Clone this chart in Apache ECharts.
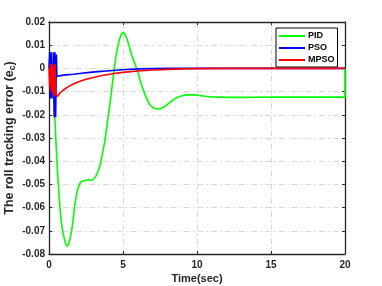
<!DOCTYPE html>
<html>
<head>
<meta charset="utf-8">
<script src="https://cdn.jsdelivr.net/npm/echarts@6/dist/echarts.min.js"></script>
<style>
html,body{margin:0;padding:0;background:#fff;}
#c{width:382px;height:286px;}
</style>
</head>
<body>
<div id="c"></div>
<script>
// ---- Data ----
const seriesNames = ['PID', 'PSO', 'MPSO'];

const pidT = [0, 0.1, 0.2, 0.3, 0.4, 0.52, 0.63, 0.74, 0.85, 0.97, 1.1, 1.24, 1.38, 1.53, 1.65, 1.76, 1.87, 1.98, 2.1, 2.2, 2.35, 2.55, 2.7, 2.88, 3.0, 3.1, 3.25, 3.45, 3.6, 3.78, 3.95, 4.12, 4.35, 4.5, 4.7, 4.85, 4.98, 5.15, 5.35, 5.6, 5.8, 5.97, 6.2, 6.5, 6.8, 7.1, 7.45, 7.8, 8.2, 8.6, 9.0, 9.4, 9.75, 10.2, 10.8, 11.5, 13, 15, 17, 20, 20];
const pidE = [0.007, 0.006, 0.0, -0.010, -0.022, -0.038, -0.050, -0.060, -0.067, -0.0715, -0.075, -0.0766, -0.0745, -0.0698, -0.064, -0.0583, -0.054, -0.0512, -0.0495, -0.0487, -0.0485, -0.0480, -0.0481, -0.0483, -0.0478, -0.0471, -0.0453, -0.0418, -0.037, -0.031, -0.023, -0.0152, -0.003, 0.004, 0.011, 0.014, 0.0154, 0.0145, 0.011, 0.0055, 0.002, -0.001, -0.006, -0.0115, -0.0155, -0.0172, -0.0175, -0.0165, -0.0145, -0.0127, -0.0118, -0.0114, -0.0114, -0.0117, -0.0122, -0.0124, -0.0125, -0.0124, -0.0124, -0.0124, 0];

const psoT = [0, 0.05, 0.1, 0.15, 0.2, 0.25, 0.3, 0.35, 0.4, 0.45, 0.5, 0.53, 0.6, 0.8, 1.0, 1.3, 1.64, 2.2, 2.77, 3.3, 3.9, 4.5, 5.2, 6.15, 7, 8, 20];
const psoE = [0, 0.007, -0.013, 0.007, -0.013, -0.005, 0.007, -0.021, 0.007, -0.021, 0.006, -0.0035, -0.0032, -0.0031, -0.0029, -0.0027, -0.0025, -0.0021, -0.0017, -0.0014, -0.0011, -0.0008, -0.0005, -0.0002, -0.0001, 0, 0];

const mpsoT = [0, 0.05, 0.1, 0.15, 0.2, 0.25, 0.3, 0.35, 0.4, 0.45, 0.55, 0.75, 1.0, 1.2, 1.5, 2.0, 2.5, 3.0, 3.5, 4.0, 4.5, 5.0, 5.5, 6.0, 7.0, 8.0, 9.0, 10.0, 12.0, 20.0];
const mpsoE = [0, -0.008, 0.002, -0.010, 0.002, -0.011, 0.001, -0.012, 0.002, -0.011, -0.0122, -0.0105, -0.0092, -0.0083, -0.0072, -0.0058, -0.0047, -0.0039, -0.0032, -0.0026, -0.0021, -0.0017, -0.0014, -0.0011, -0.0007, -0.0004, -0.0002, -0.0001, 0, 0];

const xTickLabels = ['0', '5', '10', '15', '20'];
const yTickLabels = ['-0.08', '-0.07', '-0.06', '-0.05', '-0.04', '-0.03', '-0.02', '-0.01', '0', '0.01', '0.02'];

// ---- Chart ----
const xMin = 0, xMax = 20, xInt = 5;
const yMin = -0.08, yMax = 0.02, yInt = 0.01;
const font = '"Liberation Sans", Arial, Helvetica, sans-serif';
const axisColor = '#262626';
const gridLine = {show: true, lineStyle: {color: '#d9d9d9', width: 1, type: [6, 3, 1.5, 3]}};

function pairs(t, e) { return t.map((v, i) => [v, e[i]]); }
function yLab(v) { return yTickLabels[Math.round((v - yMin) / yInt)] || ''; }
function xLab(v) { return xTickLabels[Math.round((v - xMin) / xInt)] || ''; }

const chart = echarts.init(document.getElementById('c'), null, {renderer: 'canvas'});
const baseAxis = {
  axisLine: {show: true, onZero: false, lineStyle: {color: axisColor, width: 1.3}},
  axisTick: {show: true, inside: true, length: 3, lineStyle: {color: axisColor}},
};
chart.setOption({
  animation: false,
  backgroundColor: '#fff',
  grid: {left: 49, right: 37, top: 22, bottom: 32, containLabel: false, outerBoundsMode: 'none'},
  legend: {
    data: seriesNames.map(n => ({name: n, icon: 'rect'})),
    orient: 'vertical', left: 276, top: 28,
    itemWidth: 26, itemHeight: 2, itemGap: 0,
    padding: [2, 3, 1, 3],
    borderColor: '#000', borderWidth: 1, backgroundColor: '#fff',
    textStyle: {fontFamily: font, fontWeight: 'bold', fontSize: 9, lineHeight: 12, color: '#000', padding: [0, 0, 0, -2]}
  },
  xAxis: [
    Object.assign({}, baseAxis, {
      type: 'value', min: xMin, max: xMax, interval: xInt, position: 'bottom',
      splitLine: gridLine,
      axisLabel: {formatter: xLab, fontFamily: font, fontWeight: 'bold', fontSize: 10, color: '#262626', margin: 6},
      name: 'Time(sec)', nameLocation: 'middle', nameGap: 19, nameMoveOverlap: false,
      nameTextStyle: {fontFamily: font, fontWeight: 'bold', fontSize: 11, color: '#262626'}
    }),
    Object.assign({}, baseAxis, {
      type: 'value', min: xMin, max: xMax, interval: xInt, position: 'top',
      splitLine: {show: false}, axisLabel: {show: false}
    })
  ],
  yAxis: [
    Object.assign({}, baseAxis, {
      type: 'value', min: yMin, max: yMax, interval: yInt, position: 'left',
      splitLine: gridLine,
      axisLabel: {formatter: yLab, fontFamily: font, fontWeight: 'bold', fontSize: 10, color: '#262626', margin: 4},
      name: '{a|The roll tracking error (e}{b|c}{a|)}', nameLocation: 'middle', nameGap: 32, nameMoveOverlap: false,
      nameTextStyle: {
        rich: {
          a: {fontFamily: font, fontWeight: 'bold', fontSize: 12.5, color: '#262626', lineHeight: 15},
          b: {fontFamily: font, fontWeight: 'bold', fontSize: 8.5, color: '#262626', lineHeight: 8, verticalAlign: 'bottom'}
        }
      }
    }),
    Object.assign({}, baseAxis, {
      type: 'value', min: yMin, max: yMax, interval: yInt, position: 'right',
      splitLine: {show: false}, axisLabel: {show: false}
    })
  ],
  series: [
    {name: 'PID', type: 'line', data: pairs(pidT, pidE), showSymbol: false, smooth: 0.3,
     lineStyle: {color: '#00ff00', width: 1.6}, itemStyle: {color: '#00ff00'}, z: 2},
    {name: 'PSO', type: 'line', data: pairs(psoT, psoE), showSymbol: false,
     lineStyle: {color: '#0000ff', width: 1.6}, itemStyle: {color: '#0000ff'}, z: 3},
    {name: 'MPSO', type: 'line', data: pairs(mpsoT, mpsoE), showSymbol: false,
     lineStyle: {color: '#ff0000', width: 1.6}, itemStyle: {color: '#ff0000'}, z: 4}
  ]
});
</script>
</body>
</html>
